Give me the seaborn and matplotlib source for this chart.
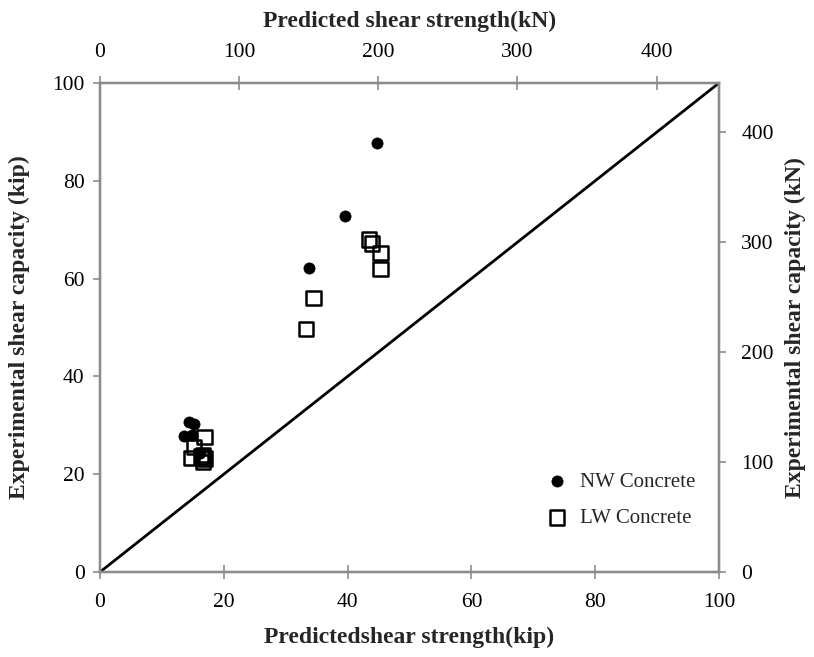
import matplotlib
matplotlib.use("Agg")
import matplotlib.pyplot as plt
import seaborn as sns
import numpy as np
import pandas as pd

# Data (kip)
nw_pred = [14.4, 15.2, 13.5, 14.8, 16.2, 33.7, 39.6, 44.7]
nw_exp = [30.7, 30.3, 27.8, 28.0, 24.3, 62.1, 72.8, 87.8]
lw_pred = [16.9, 15.2, 14.8, 16.6, 16.9, 16.7, 16.3, 34.5, 33.3, 43.5, 43.9, 45.3, 45.3]
lw_exp = [27.6, 25.5, 23.3, 24.0, 23.2, 22.5, 23.6, 56.1, 49.7, 68.0, 67.2, 65.3, 61.9]
diag = [0, 100]
kip_ticks = [0, 20, 40, 60, 80, 100]
kn_ticks = [0, 100, 200, 300, 400]
KIP_TO_KN = 4.448

sns.set_theme(style="white")
plt.rcParams['font.family'] = ['Liberation Serif', 'DejaVu Serif']

df_nw = pd.DataFrame({"pred": nw_pred, "exp": nw_exp})
df_lw = pd.DataFrame({"pred": lw_pred, "exp": lw_exp})
df_d = pd.DataFrame({"x": diag, "y": diag})

fig = plt.figure(figsize=(8.14, 6.57), dpi=100)
ax = fig.add_axes([100/814, 1 - 572/657, 619/814, 489/657])

gray = "#8c8c8c"
TICK_FS = 15.5
LAB_FS = 17
sns.lineplot(data=df_d, x="x", y="y", ax=ax, color="black", linewidth=2, legend=False)
sns.scatterplot(data=df_nw, x="pred", y="exp", ax=ax, marker="o", s=65, color="black",
                edgecolor="black", linewidth=0.5, label="NW Concrete", zorder=3)
sns.scatterplot(data=df_lw, x="pred", y="exp", ax=ax, marker="s", s=105, facecolor="none",
                edgecolor="black", linewidth=1.8, label="LW Concrete", zorder=3)

ax.set_xlim(0, 100)
ax.set_ylim(0, 100)
ax.set_xticks(kip_ticks)
ax.set_yticks(kip_ticks)
ax.set_xlabel("Predictedshear strength(kip)", fontsize=LAB_FS, fontweight="bold", labelpad=11)
ax.set_ylabel("Experimental shear capacity (kip)", fontsize=LAB_FS, fontweight="bold", labelpad=16)
ax.tick_params(axis="both", labelsize=TICK_FS, colors=gray, labelcolor="black", width=1.2)
ax.tick_params(axis="x", direction="inout", length=10, pad=10)
ax.tick_params(axis="y", direction="out", length=5, pad=6)
for sp in ax.spines.values():
    sp.set_color(gray)
    sp.set_linewidth(1.6)

# secondary axes in kN
axt = ax.twiny()
axt.set_xlim(0, 100 * KIP_TO_KN)
axt.set_xticks(kn_ticks)
axt.set_xlabel("Predicted shear strength(kN)", fontsize=LAB_FS, fontweight="bold", labelpad=12)
axt.tick_params(axis="x", labelsize=TICK_FS, colors=gray, labelcolor="black", direction="inout",
                length=10, width=1.2, pad=10)

axr = ax.twinx()
axr.set_ylim(0, 100 * KIP_TO_KN)
axr.set_yticks(kn_ticks)
axr.set_ylabel("Experimental shear capacity (kN)", fontsize=LAB_FS, fontweight="bold", labelpad=8)
axr.tick_params(axis="y", labelsize=TICK_FS, colors=gray, labelcolor="black", direction="out",
                length=5, width=1.2, pad=11)
for a in (axt, axr):
    for sp in a.spines.values():
        sp.set_color(gray)
        sp.set_linewidth(1.6)
    a.grid(False)

leg = ax.legend(loc="lower right", bbox_to_anchor=(0.985, 0.06), frameon=False, fontsize=15,
                handletextpad=0.1, labelspacing=0.8, borderaxespad=0.3)

fig.savefig("out.png", dpi=100)
